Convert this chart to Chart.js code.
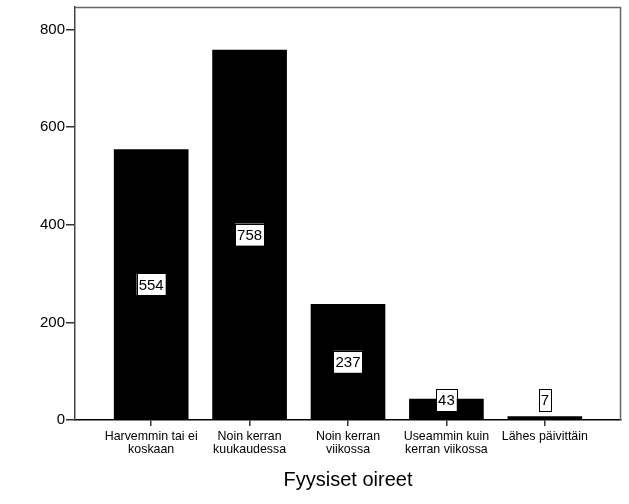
<!DOCTYPE html>
<html>
<head>
<meta charset="utf-8">
<script src="https://cdn.jsdelivr.net/npm/chart.js@4/dist/chart.umd.min.js"></script>
<style>
  html, body { margin: 0; padding: 0; background: #fff; }
  #wrap { width: 629px; height: 504px; }
</style>
</head>
<body>
<div id="wrap"><canvas id="chart" width="629" height="504"></canvas></div>
<script>
// --- Datos ---
const categories = [
  ['Harvemmin tai ei', 'koskaan'],
  ['Noin kerran', 'kuukaudessa'],
  ['Noin kerran', 'viikossa'],
  ['Useammin kuin', 'kerran viikossa'],
  ['Lähes päivittäin']
];
const values = [554, 758, 237, 43, 7];
const yTicks = [0, 200, 400, 600, 800];
const xTitle = 'Fyysiset oireet';

// marco gris arriba y a la derecha
const framePlugin = {
  id: 'frame',
  afterDraw(chart) {
    const { ctx, chartArea: a } = chart;
    ctx.save();
    ctx.strokeStyle = '#666';
    ctx.lineWidth = 1.5;
    ctx.beginPath();
    ctx.moveTo(a.left, a.top + 0.5);
    ctx.lineTo(a.right - 0.5, a.top + 0.5);
    ctx.lineTo(a.right - 0.5, a.bottom);
    ctx.stroke();
    ctx.restore();
  }
};

// etiquetas de valor en cajas blancas
const boxLabels = {
  id: 'boxLabels',
  afterDatasetsDraw(chart) {
    const { ctx } = chart;
    const meta = chart.getDatasetMeta(0);
    ctx.save();
    ctx.font = '15px Arial, "Liberation Sans", sans-serif';
    ctx.textAlign = 'center';
    ctx.textBaseline = 'middle';
    meta.data.forEach((bar, i) => {
      const txt = String(values[i]);
      const mid = (bar.y + bar.base) / 2;
      const y = Math.min(mid, bar.base - 19);
      const w = ctx.measureText(txt).width + 4;
      const h = 22;
      ctx.fillStyle = '#fff';
      ctx.fillRect(bar.x - w / 2, y - h / 2, w, h);
      ctx.strokeStyle = '#000';
      ctx.lineWidth = 1;
      ctx.strokeRect(Math.round(bar.x - w / 2) + 0.5, Math.round(y - h / 2) + 0.5, Math.round(w), h);
      ctx.fillStyle = '#000';
      ctx.fillText(txt, bar.x, y + 1);
    });
    ctx.restore();
  }
};

new Chart(document.getElementById('chart').getContext('2d'), {
  type: 'bar',
  data: {
    datasets: [{
      data: values.map((v, i) => ({ x: i, y: v })),
      backgroundColor: '#000',
      borderWidth: 0,
      barThickness: 74
    }]
  },
  options: {
    responsive: false,
    animation: false,
    layout: { padding: { top: 7, right: 8, left: 0, bottom: 0 } },
    plugins: {
      legend: { display: false },
      tooltip: { enabled: false }
    },
    scales: {
      x: {
        type: 'linear',
        offset: false,
        min: -0.774,
        max: 4.774,
        afterBuildTicks: s => { s.ticks = categories.map((c, i) => ({ value: i })); },
        afterFit: s => { s.height = 84; },
        ticks: {
          autoSkip: false,
          maxRotation: 0,
          padding: 4,
          color: '#000',
          font: { family: 'Arial, "Liberation Sans", sans-serif', size: 12.4, lineHeight: 1.05 },
          callback: v => categories[v]
        },
        grid: { offset: false, drawOnChartArea: false, drawTicks: true, tickLength: 6, color: '#333', lineWidth: 1.5 },
        border: { display: true, color: '#000', width: 1.5 },
        title: {
          display: true,
          text: xTitle,
          color: '#000',
          font: { family: 'Arial, "Liberation Sans", sans-serif', size: 20 },
          padding: { top: 0, bottom: 12 }
        }
      },
      y: {
        min: 0,
        max: 846,
        afterBuildTicks: s => { s.ticks = yTicks.map(v => ({ value: v })); },
        afterFit: s => { s.width = 75; s.paddingTop = 0; },
        ticks: {
          padding: 1,
          color: '#000',
          font: { family: 'Arial, "Liberation Sans", sans-serif', size: 15 }
        },
        grid: { drawOnChartArea: false, drawTicks: true, tickLength: 9, color: '#333', lineWidth: 1.5 },
        border: { display: true, color: '#444', width: 1.5 }
      }
    }
  },
  plugins: [framePlugin, boxLabels]
});
</script>
</body>
</html>
